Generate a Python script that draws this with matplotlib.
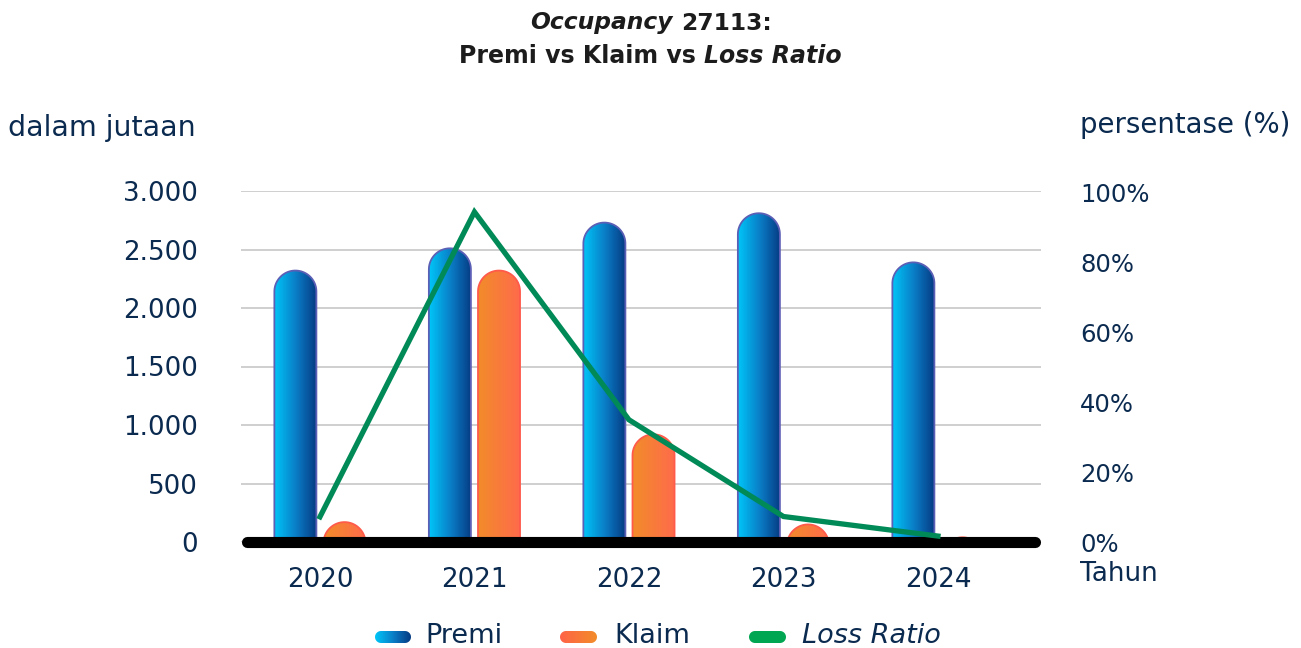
import numpy as np
import matplotlib
matplotlib.use("Agg")
import matplotlib.pyplot as plt
from matplotlib.path import Path
from matplotlib.patches import PathPatch
from matplotlib.colors import LinearSegmentedColormap

# -----------------------------
# Data
# -----------------------------
years = ['2020', '2021', '2022', '2023', '2024']
premi = [2320, 2510, 2730, 2810, 2390]
klaim = [170, 2320, 920, 150, 40]
loss_ratio = [7.2, 94.5, 35.0, 7.3, 1.7]
left_ticks = [0, 500, 1000, 1500, 2000, 2500, 3000]
right_ticks = [0, 20, 40, 60, 80, 100]

# -----------------------------
# Style
# -----------------------------
W, H = 1301, 648
FONT = ['DejaVu Sans']
NAVY = '#0b2a4f'
TITLE = '#1c1c1c'
TICK_SIZE = 18.8
plt.rcParams['font.family'] = FONT

premi_cmap = LinearSegmentedColormap.from_list('premi', ['#00c6f8', '#0a7fc8', '#053a82'])
klaim_cmap = LinearSegmentedColormap.from_list('klaim', ['#f28c2a', '#ff6a4c'])
klaim_leg = LinearSegmentedColormap.from_list('klaim_leg', ['#ff6347', '#f28c2a'])
GREEN = '#008a57'


def px(x, y):
    return x / W, 1 - y / H


fig = plt.figure(figsize=(W / 100, H / 100), dpi=100, facecolor='white')
renderer = fig.canvas.get_renderer()
ax = fig.add_axes([241 / W, (H - 542) / H, 800 / W, 351 / H])

x = np.arange(len(years))
bw = 0.272
off = 0.159
xlim = (-0.511, 4.667)
ylim = (0, 3000)
ax.set_xlim(*xlim)
ax.set_ylim(*ylim)

# data units per pixel, used to keep the rounded caps circular
asp = ((ylim[1] - ylim[0]) / 351) / ((xlim[1] - xlim[0]) / 800)


def rounded_bar(rect, cmap, edge):
    x0, w, top = rect.get_x(), rect.get_width(), rect.get_height()
    rx = w / 2
    ry = rx * asp
    cy = top - ry
    t = np.linspace(np.pi, 0, 40)
    bottom = min(0, cy) - ry
    verts = [(x0, bottom), (x0, cy)]
    verts += list(zip(x0 + rx + rx * np.cos(t), cy + ry * np.sin(t)))
    verts += [(x0 + w, bottom), (x0, bottom)]
    codes = [Path.MOVETO] + [Path.LINETO] * (len(verts) - 2) + [Path.CLOSEPOLY]
    patch = PathPatch(Path(verts, codes), fc='none', ec=edge, lw=1.3, zorder=3)
    ax.add_patch(patch)
    grad = np.linspace(0, 1, 256).reshape(1, -1)
    im = ax.imshow(grad, extent=[x0, x0 + w, 0, top], aspect='auto', cmap=cmap,
                   zorder=2, interpolation='bicubic')
    im.set_clip_path(patch)


bars_p = ax.bar(x - off, premi, bw, color='none', edgecolor='none')
bars_k = ax.bar(x + off, klaim, bw, color='none', edgecolor='none')
for r in bars_p:
    rounded_bar(r, premi_cmap, '#5b5fb5')
for r in bars_k:
    rounded_bar(r, klaim_cmap, '#ff5a4a')

ax.set_xlim(*xlim)
ax.set_ylim(*ylim)
ax.set_yticks(left_ticks)
ax.set_yticklabels([f'{v:,}'.replace(',', '.') for v in left_ticks])
ax.set_xticks(x)
ax.set_xticklabels(years)
ax.tick_params(axis='y', length=0, pad=31, labelsize=TICK_SIZE, labelcolor=NAVY)
ax.tick_params(axis='x', length=0, pad=18, labelsize=TICK_SIZE, labelcolor=NAVY)
ax.yaxis.grid(True, color='#cccccc', lw=1.3)
ax.set_axisbelow(True)
for s in ax.spines.values():
    s.set_visible(False)

# thick base line
ax.axhline(0, xmin=0.007, xmax=0.993, color='black', lw=8,
           solid_capstyle='round', clip_on=False, zorder=5)

# -----------------------------
# Loss ratio on secondary axis
# -----------------------------
ax2 = ax.twinx()
ax2.plot(x, loss_ratio, color=GREEN, lw=3.8, solid_joinstyle='miter', zorder=6)
ax2.set_ylim(0, 100.5)
ax2.set_yticks(right_ticks)
ax2.set_yticklabels([f'{v}%' for v in right_ticks])
ax2.tick_params(axis='y', length=0, pad=28, labelsize=17.5, labelcolor=NAVY)
for s in ax2.spines.values():
    s.set_visible(False)
ax2.set_xlim(*xlim)


# -----------------------------
# Text (sizes fitted to the widths in the reference)
# -----------------------------
def fit_size(s, target, **kw):
    t = fig.text(0, 0, s, fontsize=10, **kw)
    w = t.get_window_extent(renderer).width
    t.remove()
    return 10 * target / w


def label(x0, x1, yc, s, **kw):
    size = fit_size(s, x1 - x0, **kw)
    fig.text(*px(x0, yc), s, fontsize=size, color=NAVY, va='center', ha='left', **kw)


label(8, 197, 128, 'dalam jutaan')
label(1080, 1290, 125, 'persentase (%)')
fig.text(*px(1080, 574), 'Tahun', fontsize=TICK_SIZE, color=NAVY, va='center', ha='left')


def mixed_line(x0, x1, cy, segs, color):
    kw = dict(fontweight='bold')
    whole = ' '.join(s for s, _ in segs)
    size = fit_size(whole, x1 - x0, **kw)
    objs = []
    for s, style in segs:
        t = fig.text(0, 0, s, fontsize=size, fontstyle=style, color=color,
                     va='center', ha='left', **kw)
        objs.append(t)
    widths = [t.get_window_extent(renderer).width for t in objs]
    sp = fig.text(0, 0, 'a a', fontsize=size, **kw)
    sp2 = fig.text(0, 0, 'aa', fontsize=size, **kw)
    gap = sp.get_window_extent(renderer).width - sp2.get_window_extent(renderer).width
    sp.remove()
    sp2.remove()
    total = sum(widths) + gap * (len(objs) - 1)
    xp = (x0 + x1) / 2 - total / 2
    for t, w in zip(objs, widths):
        t.set_position(px(xp, cy))
        xp += w + gap


mixed_line(530, 772, 23, [('Occupancy', 'italic'), ('27113:', 'normal')], TITLE)
mixed_line(459, 842, 56, [('Premi vs Klaim vs', 'normal'), ('Loss Ratio', 'italic')], TITLE)

# -----------------------------
# Legend (drawn by hand to show gradient pills)
# -----------------------------
lax = fig.add_axes([0, 0, 1, 1], facecolor='none')
lax.set_xlim(0, W)
lax.set_ylim(H, 0)
lax.axis('off')


def pill(x0, x1, yc, cmap=None, color=None):
    h = 12
    r = h / 2
    t = np.linspace(np.pi / 2, 3 * np.pi / 2, 20)
    verts = list(zip(x0 + r + r * np.cos(t), yc - r * np.sin(t)))
    verts += list(zip(x1 - r - r * np.cos(t), yc + r * np.sin(t)))
    verts.append(verts[0])
    codes = [Path.MOVETO] + [Path.LINETO] * (len(verts) - 2) + [Path.CLOSEPOLY]
    patch = PathPatch(Path(verts, codes), fc=color if color else 'none', ec='none')
    lax.add_patch(patch)
    if cmap is not None:
        grad = np.linspace(0, 1, 128).reshape(1, -1)
        im = lax.imshow(grad, extent=[x0, x1, yc + r, yc - r], aspect='auto', cmap=cmap)
        im.set_clip_path(patch)


pill(375, 411, 637, cmap=premi_cmap)
pill(560, 597, 637, cmap=klaim_leg)
pill(749, 786, 637, color='#00a651')
lax.set_xlim(0, W)
lax.set_ylim(H, 0)
label(425, 502, 636, 'Premi')
label(614, 690, 636, 'Klaim')
label(802, 941, 636, 'Loss Ratio', fontstyle='italic')

fig.savefig('out.png', dpi=100, facecolor='white')
